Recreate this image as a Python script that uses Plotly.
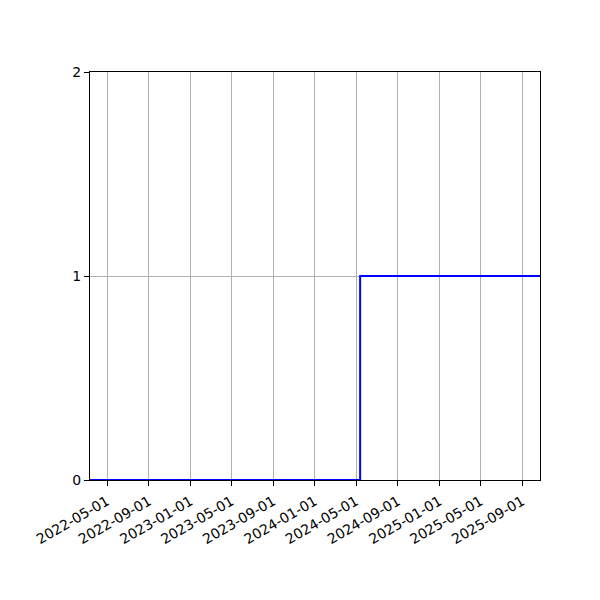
import plotly.graph_objects as go

# step data
dates = ["2022-03-12", "2024-05-13", "2025-10-23"]
values = [0, 1, 1]
tick_dates = ["2022-05-01", "2022-09-01", "2023-01-01", "2023-05-01", "2023-09-01",
              "2024-01-01", "2024-05-01", "2024-09-01", "2025-01-01", "2025-05-01",
              "2025-09-01"]

fig = go.Figure()
fig.add_trace(
    go.Scatter(
        x=dates,
        y=values,
        mode="lines",
        line=dict(color="#0000ff", width=2, shape="hv"),
        showlegend=False,
    )
)

axis_common = dict(
    showline=True,
    linecolor="black",
    linewidth=1,
    mirror=True,
    ticks="outside",
    ticklen=5,
    tickcolor="black",
    showgrid=True,
    gridcolor="#b0b0b0",
    gridwidth=1,
    zeroline=False,
    automargin=False,
)

# page body adds an 8px offset, so margins are shifted to compensate
fig.update_layout(
    width=600,
    height=600,
    margin=dict(l=82, r=68, t=64, b=128),
    paper_bgcolor="white",
    plot_bgcolor="white",
    font=dict(family="DejaVu Sans", size=14, color="black"),
    xaxis=dict(
        range=[dates[0], dates[-1]],
        tickvals=tick_dates,
        ticktext=tick_dates,
        tickangle=-30,
        ticklabelstandoff=2,
        **axis_common,
    ),
    yaxis=dict(
        range=[0, 2],
        tickvals=[0, 1, 2],
        **axis_common,
    ),
)

fig.write_html("out.html")
